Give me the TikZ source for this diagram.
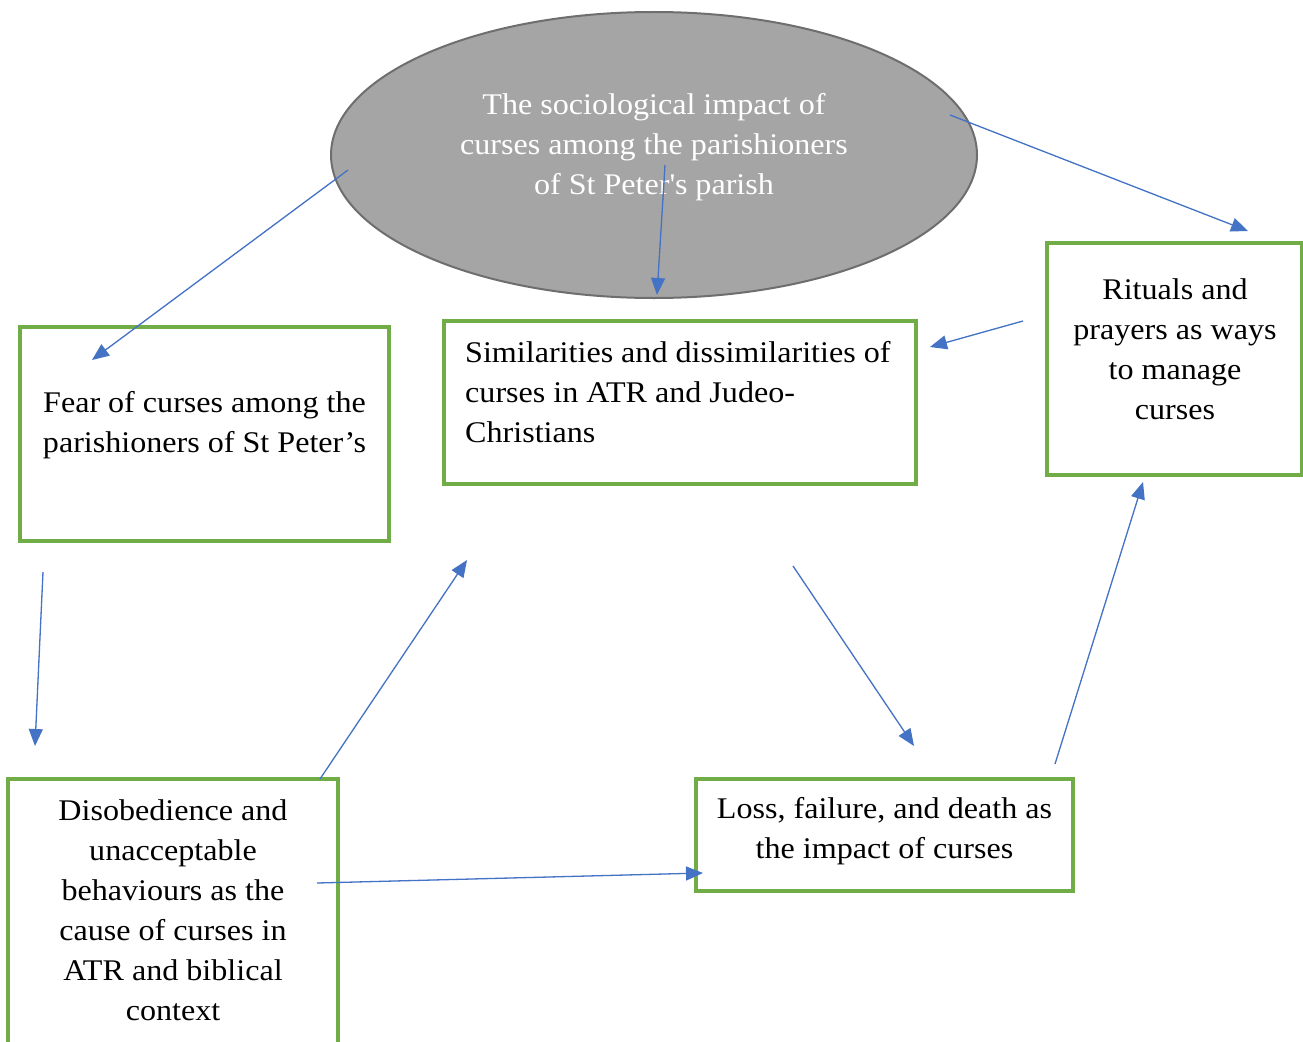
\documentclass[tikz,border=0pt]{standalone}
\usepackage{fontspec}
\setmainfont{Liberation Serif}[FakeStretch=1.07]
\usetikzlibrary{arrows.meta,shapes.geometric}
\definecolor{gbox}{HTML}{70AD47}
\definecolor{arr}{HTML}{4472C4}
\definecolor{ellfill}{HTML}{A5A5A5}
\definecolor{elldraw}{HTML}{6E6E6E}
\tikzset{
  gbox/.style={draw=gbox, line width=3.2pt, rectangle, inner sep=0pt, outer sep=0pt},
  txt/.style={font=\fontsize{30}{40}\selectfont, inner sep=0pt, text=black},
  arrline/.style={draw=arr, line width=1.3pt, -{Triangle[length=17pt,width=14pt]}, fill=arr},
}
\begin{document}
\begin{tikzpicture}[x=1pt,y=-1pt]
\useasboundingbox (0,0) rectangle (1303,1041);
\clip (0,0) rectangle (1303,1041);
\fill[white] (0,0) rectangle (1303,1041);

% ellipse
\node[ellipse, draw=elldraw, fill=ellfill, line width=2pt, minimum width=646pt, minimum height=286pt, inner sep=0pt] (ell) at (654,155) {};
\node[txt, text=white, align=center] (ellT) at (654,147) {The sociological impact of\\curses among the parishioners\\of St Peter\textquotesingle s parish};

% boxes
\node[gbox, minimum width=369pt, minimum height=214pt] (fear) at (204.5,434) {};
\node[txt, align=center] (fearT) at (204.5,425) {Fear of curses among the\\parishioners of St Peter’s};

\node[gbox, minimum width=472pt, minimum height=163pt] (sim) at (680,402.5) {};
\node[txt, align=left, anchor=west] (simT) at (465,392) {Similarities and dissimilarities of\\curses in ATR and Judeo-\\Christians};

\node[gbox, minimum width=255pt, minimum height=232pt] (rit) at (1174.5,359) {};
\node[txt, align=center] (ritT) at (1175,349) {Rituals and\\prayers as ways\\to manage\\curses};

\node[gbox, minimum width=330pt, minimum height=300pt] (dis) at (173,929) {};
\node[txt, align=center] (disT) at (173,910) {Disobedience and\\unacceptable\\behaviours as the\\cause of curses in\\ATR and biblical\\context};

\node[gbox, minimum width=377pt, minimum height=112pt] (loss) at (884.5,835) {};
\node[txt, align=center] (lossT) at (884.5,831) {Loss, failure, and death as\\the impact of curses};

% arrow endpoints
\coordinate (a1s) at (348,170); \coordinate (a1e) at (92,360);
\coordinate (a2s) at (665,165); \coordinate (a2e) at (657,295);
\coordinate (a3s) at (950,115); \coordinate (a3e) at (1248,231);
\coordinate (a4s) at (1023,321); \coordinate (a4e) at (930,347);
\coordinate (a5s) at (43,572); \coordinate (a5e) at (35,746);
\coordinate (a6s) at (320,779); \coordinate (a6e) at (467,560);
\coordinate (a7s) at (793,566); \coordinate (a7e) at (914,746);
\coordinate (a8s) at (317,883); \coordinate (a8e) at (703,873);
\coordinate (a9s) at (1055,764); \coordinate (a9e) at (1143,482);

\foreach \i in {1,...,9} {
  \draw[arrline] (a\i s) -- (a\i e);
}
\end{tikzpicture}
\end{document}
